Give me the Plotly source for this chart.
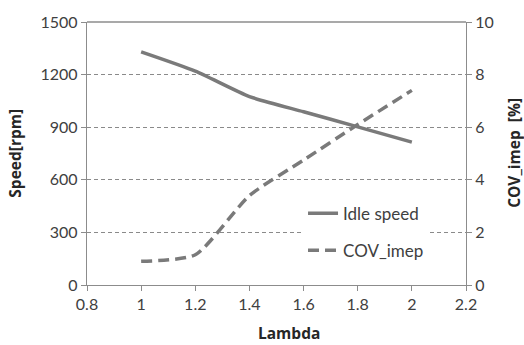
import plotly.graph_objects as go

lambda_vals = [1.0, 1.2, 1.4, 1.6, 1.8, 2.0]
idle_speed = [1330, 1220, 1075, 988, 902, 815]
cov_imep = [0.9, 1.15, 3.4, 4.75, 6.1, 7.4]

x_ticks = [0.8, 1.0, 1.2, 1.4, 1.6, 1.8, 2.0, 2.2]

GRAY = "#7a7a7a"
AXIS = "#8c8c8c"
FONT = "Lato"
TFONT = "Open Sans"

fig = go.Figure()
fig.add_trace(go.Scatter(
    x=lambda_vals, y=idle_speed, name="Idle speed", mode="lines",
    line=dict(color=GRAY, width=3.5, shape="spline", smoothing=0.6),
    legendgroup="a", yaxis="y"))
fig.add_trace(go.Scatter(
    x=lambda_vals, y=cov_imep, name="COV_imep", mode="lines",
    line=dict(color=GRAY, width=3.5, dash="11px,6px", shape="spline", smoothing=0.6),
    legendgroup="b", yaxis="y2"))

fig.update_layout(
    width=524, height=345,
    margin=dict(l=87, r=58, t=14, b=60),
    paper_bgcolor="white", plot_bgcolor="white",
    font=dict(family=FONT, size=16, color="#404040"),
    showlegend=True,
    legend=dict(x=0.57, y=0.34, xanchor="left", yanchor="top",
                bgcolor="white", borderwidth=0, tracegroupgap=12,
                font=dict(family=FONT, size=17, color="#404040")),
    xaxis=dict(range=[0.8, 2.2], tickvals=x_ticks,
               ticktext=[f"{v:g}" for v in x_ticks],
               showgrid=False, zeroline=False,
               showline=True, linecolor=AXIS, linewidth=1.3,
               ticks="outside", ticklen=5, tickcolor=AXIS),
    yaxis=dict(range=[0, 1500], dtick=300, tick0=0,
               showgrid=True, gridcolor="#8a8a8a", griddash="4px,3px", gridwidth=1,
               zeroline=False, showline=True, linecolor=AXIS, linewidth=1.3,
               ticks="outside", ticklen=5, tickcolor=AXIS),
    yaxis2=dict(range=[0, 10], dtick=2, tick0=0, overlaying="y", side="right",
                showgrid=False, zeroline=False, showline=True, linecolor=AXIS,
                linewidth=1.3, ticks="outside", ticklen=5, tickcolor=AXIS),
)

# top border
fig.add_shape(type="line", xref="paper", yref="paper", x0=0, x1=1, y0=1, y1=1,
              line=dict(color=AXIS, width=1.3))

title_font = dict(family=TFONT, size=15.5, color="#262626")
fig.add_annotation(text="<b>Lambda</b>", xref="paper", yref="paper",
                   x=0.532, y=-0.183, showarrow=False, font=title_font,
                   xanchor="center", yanchor="middle")
fig.add_annotation(text="<b>Speed[rpm]</b>", xref="paper", yref="paper",
                   x=-0.19, y=0.503, showarrow=False, font=title_font,
                   textangle=-90, xanchor="center", yanchor="middle")
fig.add_annotation(text="<b>COV_imep  [%]</b>", xref="paper", yref="paper",
                   x=1.127, y=0.503, showarrow=False, font=title_font,
                   textangle=-90, xanchor="center", yanchor="middle")

fig.write_html("out.html")
